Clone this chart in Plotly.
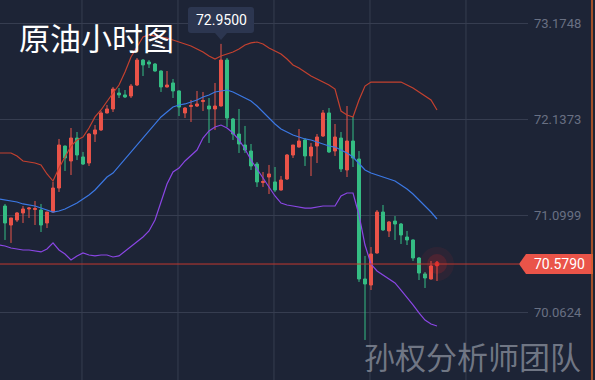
import plotly.graph_objects as go

# ---------------- data ----------------
idx = list(range(73))
opens = [71.204, 70.999, 71.053, 71.129, 71.172, 71.166, 71.161, 71.021, 71.139, 71.398,
         71.850, 71.689, 71.936, 71.732, 71.667, 71.979, 72.023, 72.206, 72.249, 72.421,
         72.400, 72.389, 72.507, 72.776, 72.755, 72.733, 72.658, 72.486, 72.529, 72.443,
         72.206, 72.276, 72.281, 72.329, 72.281, 72.249, 72.281, 72.776, 72.141, 71.979,
         71.861, 71.796, 71.656, 71.457, 71.516, 71.463, 71.376, 71.495, 71.753, 71.839,
         71.915, 71.743, 71.850, 71.958, 72.206, 71.796, 71.936, 71.592, 71.904, 71.710,
         70.418, 70.353, 70.698, 71.139, 70.935, 71.042, 71.010, 70.870, 70.838, 70.644,
         70.472, 70.418, 70.569]
highs = [71.226, 71.075, 71.139, 71.204, 71.193, 71.258, 71.226, 71.139, 71.463, 71.926,
         71.855, 72.044, 72.001, 71.786, 71.990, 72.076, 72.227, 72.292, 72.486, 72.475,
         72.453, 72.518, 72.798, 72.787, 72.776, 72.744, 72.665, 72.658, 72.572, 72.450,
         72.270, 72.346, 72.443, 72.432, 72.367, 72.529, 72.950, 72.798, 72.152, 72.249,
         72.066, 71.872, 71.678, 71.570, 71.646, 71.624, 71.527, 71.764, 71.861, 72.033,
         71.936, 71.883, 71.979, 72.238, 72.259, 72.087, 72.001, 72.281, 72.163, 71.796,
         70.666, 70.762, 71.161, 71.215, 71.042, 71.096, 71.021, 70.935, 70.845, 70.655,
         70.493, 70.612, 70.612]
lows = [70.838, 70.806, 71.032, 71.021, 71.075, 70.999, 70.924, 70.967, 71.135, 71.355,
        71.581, 71.538, 71.699, 71.646, 71.635, 71.893, 72.012, 72.200, 72.216, 72.367,
        72.367, 72.367, 72.496, 72.604, 72.690, 72.650, 72.432, 72.480, 72.367, 72.173,
        72.152, 72.109, 72.270, 72.227, 71.883, 72.023, 72.275, 72.055, 71.915, 71.775,
        71.775, 71.592, 71.409, 71.409, 71.333, 71.355, 71.370, 71.484, 71.721, 71.833,
        71.635, 71.527, 71.667, 71.947, 71.775, 71.743, 71.570, 71.516, 71.624, 70.386,
        69.761, 70.299, 70.690, 70.935, 70.870, 70.838, 70.795, 70.784, 70.612, 70.407,
        70.321, 70.412, 70.396]
closes = [71.021, 71.075, 71.129, 71.172, 71.182, 71.177, 70.999, 71.139, 71.398, 71.861,
          71.721, 71.936, 71.753, 71.656, 71.979, 72.023, 72.206, 72.249, 72.464, 72.400,
          72.378, 72.496, 72.776, 72.723, 72.733, 72.658, 72.486, 72.507, 72.443, 72.270,
          72.259, 72.286, 72.303, 72.340, 72.249, 72.281, 72.776, 72.152, 71.979, 71.872,
          71.807, 71.635, 71.463, 71.468, 71.549, 71.376, 71.484, 71.753, 71.861, 71.904,
          71.743, 71.839, 71.947, 72.206, 71.786, 71.947, 71.603, 71.904, 71.721, 70.418,
          70.364, 70.687, 71.139, 70.946, 71.032, 71.010, 70.892, 70.838, 70.644, 70.482,
          70.429, 70.558, 70.579]

band_x = [-1] + idx
upper = [71.775,
         71.775, 71.775, 71.743, 71.689, 71.678, 71.667, 71.646, 71.549, 71.473, 71.613,
         71.732, 71.850, 71.915, 71.947, 72.044, 72.163, 72.238, 72.335, 72.421, 72.507,
         72.647, 72.809, 72.916, 73.024, 73.046, 73.035, 73.024, 73.013, 72.992, 72.970,
         72.949, 72.927, 72.895, 72.863, 72.819, 72.787, 72.819, 72.841, 72.863, 72.895,
         72.938, 72.960, 72.970, 72.949, 72.906, 72.873, 72.841, 72.787, 72.723, 72.690,
         72.647, 72.604, 72.572, 72.539, 72.507, 72.464, 72.227, 72.184, 72.163, 72.346,
         72.496, 72.539, 72.539, 72.539, 72.539, 72.539, 72.539, 72.507, 72.475, 72.432,
         72.389, 72.346, 72.238]
middle = [71.279,
          71.269, 71.258, 71.247, 71.226, 71.215, 71.204, 71.182, 71.161, 71.139, 71.150,
          71.172, 71.204, 71.236, 71.279, 71.322, 71.376, 71.452, 71.516, 71.559, 71.635,
          71.710, 71.786, 71.861, 71.947, 72.023, 72.087, 72.163, 72.216, 72.270, 72.292,
          72.303, 72.324, 72.346, 72.378, 72.400, 72.432, 72.442, 72.453, 72.432, 72.400,
          72.367, 72.335, 72.281, 72.216, 72.152, 72.087, 72.033, 72.001, 71.969, 71.947,
          71.926, 71.915, 71.893, 71.872, 71.850, 71.839, 71.807, 71.775, 71.732, 71.667,
          71.592, 71.559, 71.538, 71.516, 71.495, 71.473, 71.430, 71.387, 71.333, 71.269,
          71.204, 71.139, 71.064]
lower = [70.784,
         70.773, 70.752, 70.741, 70.730, 70.730, 70.719, 70.709, 70.741, 70.806, 70.730,
         70.687, 70.622, 70.666, 70.698, 70.676, 70.666, 70.676, 70.676, 70.655, 70.666,
         70.719, 70.773, 70.816, 70.870, 70.935, 71.053, 71.247, 71.441, 71.570, 71.613,
         71.689, 71.743, 71.807, 71.936, 72.012, 72.055, 72.076, 72.044, 71.990, 71.915,
         71.818, 71.699, 71.602, 71.516, 71.409, 71.312, 71.236, 71.215, 71.204, 71.193,
         71.182, 71.182, 71.193, 71.204, 71.204, 71.204, 71.312, 71.344, 71.344, 71.107,
         70.784, 70.579, 70.504, 70.461, 70.418, 70.375, 70.299, 70.224, 70.138, 70.052,
         69.976, 69.933, 69.912]

y_ticks = [73.1748, 72.1373, 71.0999, 70.0624]
y_tick_text = ["73.1748", "72.1373", "71.0999", "70.0624"]
x_grid = [12.83, 28.83, 44.83, 60.83, 76.83]
last_price = 70.5790
peak_price = 72.9500
peak_idx = 36
title_text = "原油小时图"
watermark = "孙权分析师团队"

# ---------------- style ----------------
BG = "#1d2436"
GRID = "#363d50"
RED = "#ea5449"
GREEN = "#35bd84"
NUM_FONT = "Roboto, Liberation Sans, Arial, sans-serif"
CJK_FONT = "Noto Sans CJK SC, Noto Sans, sans-serif"

fig = go.Figure()

fig.add_trace(go.Scatter(x=band_x, y=upper, mode="lines",
                         line=dict(color="#c4412f", width=1.2), hoverinfo="skip"))
fig.add_trace(go.Scatter(x=band_x, y=middle, mode="lines",
                         line=dict(color="#3b78e4", width=1.2), hoverinfo="skip"))
fig.add_trace(go.Scatter(x=band_x, y=lower, mode="lines",
                         line=dict(color="#8a46e4", width=1.2), hoverinfo="skip"))

fig.add_trace(go.Candlestick(
    x=idx, open=opens, high=highs, low=lows, close=closes,
    increasing=dict(line=dict(color=RED, width=1), fillcolor=RED),
    decreasing=dict(line=dict(color=GREEN, width=1), fillcolor=GREEN),
    whiskerwidth=0,
))

# glow on the last candle
fig.add_trace(go.Scatter(x=[idx[-1]] * 3, y=[last_price] * 3, mode="markers",
                         marker=dict(size=[34, 20, 5],
                                     color=["rgba(255,40,40,0.10)", "rgba(255,40,40,0.22)", "#ff2a2a"],
                                     line=dict(width=0)),
                         hoverinfo="skip"))

shapes = []
for gx in x_grid:
    shapes.append(dict(type="line", xref="x", yref="paper", x0=gx, x1=gx, y0=0, y1=1,
                       line=dict(color=GRID, width=1), layer="below"))
# last-price line
shapes.append(dict(type="line", xref="paper", yref="y", x0=0, x1=519 / 528,
                   y0=last_price, y1=last_price, line=dict(color="#c0392f", width=1)))
# last-price tag
shapes.append(dict(type="path", xref="paper", yref="y", ysizemode="pixel", yanchor=last_price,
                   path=f"M {519/528},0 L {526/528},10 L {593/528},10 L {593/528},-10 L {526/528},-10 Z",
                   fillcolor=RED, line=dict(width=0)))
# right edge line
shapes.append(dict(type="line", xref="paper", yref="paper", x0=592 / 528, x1=592 / 528, y0=0, y1=1,
                   line=dict(color="#d0602a", width=1.5)))
# peak tooltip
shapes.append(dict(type="path", xref="x", yref="y", xsizemode="pixel", ysizemode="pixel",
                   xanchor=peak_idx, yanchor=peak_price,
                   path="M 0,4 L -6,11 L -30,11 Q -33,11 -33,14 L -33,34 Q -33,37 -30,37 "
                        "L 30,37 Q 33,37 33,34 L 33,14 Q 33,11 30,11 L 6,11 Z",
                   fillcolor="#2c3650", line=dict(width=0)))

annotations = [
    dict(x=peak_idx, y=peak_price, xref="x", yref="y", text=f"{peak_price:.4f}", showarrow=False,
         xanchor="center", yshift=24, font=dict(family=NUM_FONT, size=14, color="#ffffff")),
    dict(x=559 / 528, y=last_price, xref="paper", yref="y", text=f"{last_price:.4f}", showarrow=False,
         xanchor="center", yanchor="middle", font=dict(family=NUM_FONT, size=14, color="#ffffff")),
    dict(x=17 / 528, y=1 - 37 / 380, xref="paper", yref="paper", text=title_text, showarrow=False,
         xanchor="left", yanchor="middle", font=dict(family=CJK_FONT, size=31, color="#ffffff")),
    dict(x=583 / 528, y=1 - 355 / 380, xref="paper", yref="paper", text=watermark, showarrow=False,
         xanchor="right", yanchor="middle",
         font=dict(family=CJK_FONT, size=31, color="rgba(140,146,158,0.75)")),
]

fig.update_layout(
    width=595, height=380,
    margin=dict(l=0, r=67, t=0, b=0),
    paper_bgcolor=BG, plot_bgcolor=BG,
    showlegend=False,
    shapes=shapes, annotations=annotations,
    xaxis=dict(range=[-0.833, 87.167], showgrid=False, zeroline=False, showticklabels=False,
               rangeslider=dict(visible=False), fixedrange=True),
    yaxis=dict(range=[69.330, 73.4226], side="right", tickvals=y_ticks, ticktext=y_tick_text,
               showgrid=True, gridcolor=GRID, gridwidth=1, zeroline=False, ticks="",
               tickfont=dict(family=NUM_FONT, size=13, color="#697083"),
               automargin=False, ticklabelstandoff=5, fixedrange=True),
)

fig.write_html("out.html", config={"displayModeBar": False},
               post_script="document.body.style.margin='0';document.body.style.background='" + BG + "';")
